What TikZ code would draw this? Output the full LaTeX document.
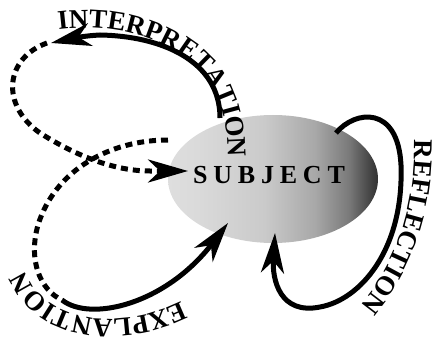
\documentclass[tikz,border=0pt]{standalone}
\usepackage{fontspec}
\setmainfont{Liberation Serif}
\usetikzlibrary{arrows.meta,decorations.text,shapes.geometric}
\definecolor{gA}{HTML}{DEDEDE}
\definecolor{gB}{HTML}{DADADA}
\definecolor{gC}{HTML}{CACACA}
\definecolor{gD}{HTML}{A8A8A8}
\definecolor{gE}{HTML}{7A7A7A}
\definecolor{gF}{HTML}{404040}
\definecolor{gG}{HTML}{333333}
\pgfdeclarehorizontalshading{subjshade}{100bp}{color(0bp)=(gA); color(25bp)=(gA); color(32bp)=(gB); color(48bp)=(gC); color(60bp)=(gD); color(68bp)=(gE); color(73.5bp)=(gF); color(75bp)=(gG); color(100bp)=(gG)}
\newcommand\lblfont{\fontsize{27}{27}\selectfont\bfseries}
\newcommand\subjfont{\fontsize{26}{26}\selectfont\bfseries}
\newcommand\sgap{\hspace{5.8pt}}
\begin{document}
\begin{tikzpicture}[x=1pt,y=-1pt,
  tipstyle/.style={-{Stealth[length=40pt,width=23pt,inset=12pt]}},
  conn/.style={line width=5pt,tipstyle},
  dots/.style={line width=5pt,dash pattern=on 7pt off 5pt},
  lbl/.style={decorate,decoration={text along path,text align={center},text={|\lblfont|#1}}}]
\useasboundingbox (0,0) rectangle (436,342);
% subject
\node[ellipse,shade,shading=subjshade,minimum width=210pt,minimum height=128pt,inner sep=0pt] (ell) at (273,179) {};
\node[font=\subjfont,anchor=base,inner sep=0pt] (subj) at (269,183) {S\sgap U\sgap B\sgap J\sgap E\sgap C\sgap T};
% coordinates
\coordinate (i0) at (220,118);
\coordinate (i1) at (51,43);
\coordinate (d0) at (47,43);
\coordinate (d1) at (188,171);
\coordinate (x0) at (168,140);
\coordinate (x1) at (62,300);
\coordinate (x2) at (228,223);
\coordinate (r0) at (336,133);
\coordinate (r1) at (275,233);
% interpretation
\draw[conn] (i0) .. controls (220,60) and (160,36) .. (100,35) .. controls (80,36) and (65,40) .. (i1);
\draw[dots,tipstyle] (d0) .. controls (5,58) and (0,105) .. (40,133) .. controls (70,152) and (110,171) .. (150,171) -- (d1);
% explanation
\draw[dots] (x0) .. controls (110,140) and (55,170) .. (38,225) .. controls (28,260) and (40,290) .. (x1);
\draw[conn] (x1) .. controls (90,322) and (165,305) .. (x2);
% reflection
\draw[conn] (r0) .. controls (355,110) and (398,105) .. (401,165) .. controls (404,250) and (360,300) .. (320,307) .. controls (280,315) and (272,280) .. (r1);
% labels
\path[lbl=INTERPRETATION] (56,30) .. controls (110,22) and (170,38) .. (200,70) .. controls (222,94) and (228,125) .. (228,160);
\path[lbl=REFLECTION] (414.5,138) .. controls (415.5,195) and (403,255) .. (359,307);
\path[lbl=EXPLANTION] (178,303) .. controls (120,330) and (50,325) .. (26,274);
\end{tikzpicture}
\end{document}
